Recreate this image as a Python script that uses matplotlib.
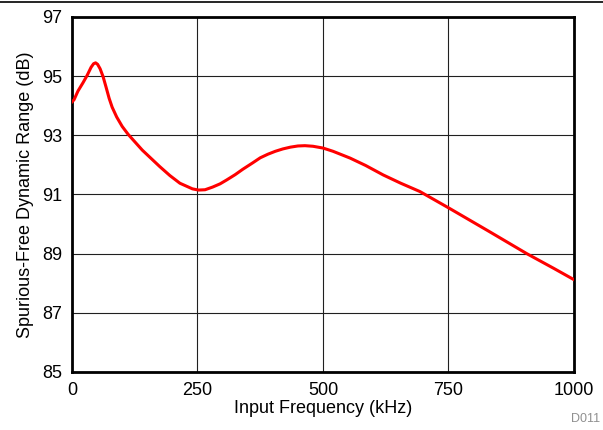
import matplotlib
matplotlib.use('Agg')
import matplotlib.pyplot as plt
from matplotlib.lines import Line2D

plt.rcParams['font.family'] = ['Liberation Sans', 'DejaVu Sans']

# Input frequency (kHz) and SFDR (dB)
freq = [0, 4, 12, 22, 30, 38, 43, 47, 51, 56, 62, 68, 74, 80, 89, 100, 112,
        140, 160, 175, 195, 215, 240, 252, 265, 280, 295, 308, 325, 340,
        360, 375, 390, 405, 420, 435, 450, 464, 480, 500, 520, 554, 585,
        620, 655, 693, 751, 830, 906, 960, 1000]
sfdr = [94.13, 94.2, 94.5, 94.78, 95.02, 95.3, 95.42, 95.45, 95.4, 95.25,
        94.98, 94.62, 94.25, 93.95, 93.62, 93.3, 93.03, 92.5, 92.18, 91.94,
        91.64, 91.38, 91.19, 91.15, 91.16, 91.25, 91.36, 91.49, 91.67, 91.85,
        92.07, 92.24, 92.36, 92.46, 92.54, 92.6, 92.64, 92.65, 92.63, 92.57,
        92.46, 92.23, 91.98, 91.66, 91.38, 91.1, 90.54, 89.76, 89.0, 88.5,
        88.12]

x_ticks = [0, 250, 500, 750, 1000]
y_ticks = [85, 87, 89, 91, 93, 95, 97]

fig = plt.figure(figsize=(6.03, 4.30), dpi=100)
ax = fig.add_axes([0.1194, 0.1349, 0.8325, 0.8256])

ax.plot(freq, sfdr, color='#ff0000', linewidth=2.2, zorder=3,
        solid_joinstyle='round')

ax.set_xlim(0, 1000)
ax.set_ylim(85, 97)
ax.set_xticks(x_ticks)
ax.set_yticks(y_ticks)
ax.grid(True, color='#202020', linewidth=0.8)
ax.tick_params(length=0, labelsize=13, pad=7)
for s in ax.spines.values():
    s.set_linewidth(2.0)
    s.set_color('black')

ax.set_xlabel('Input Frequency (kHz)', fontsize=13, labelpad=1)
ax.set_ylabel('Spurious-Free Dynamic Range (dB)', fontsize=13, labelpad=6)

fig.add_artist(Line2D([0, 1], [0.996, 0.996], color='black', linewidth=1.2))
fig.text(0.995, 0.012, 'D011', color='#909090', fontsize=9, ha='right', va='bottom')

fig.savefig('out.png', dpi=100)
